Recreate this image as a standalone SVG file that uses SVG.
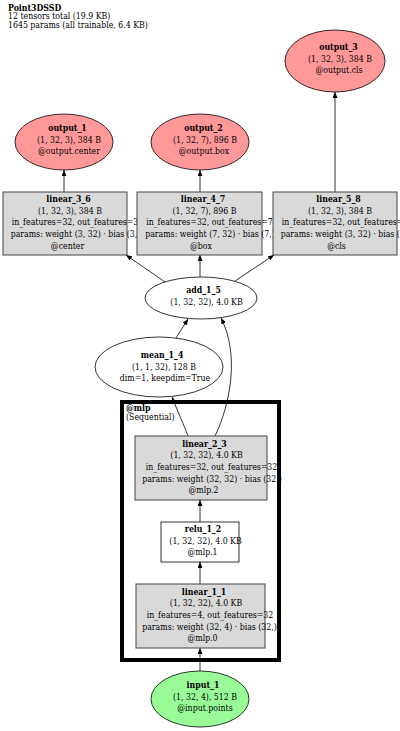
<svg xmlns="http://www.w3.org/2000/svg" width="400" height="731" viewBox="0 0 400 731">
<defs>
<marker id="ah" markerUnits="userSpaceOnUse" markerWidth="6" markerHeight="5" refX="6" refY="2.5" orient="auto">
<path d="M0,0 L6,2.5 L0,5 z" fill="#000"/>
</marker>
<style>
text{font-family:"DejaVu Serif","Liberation Serif",serif;font-stretch:condensed;font-size:8.7px;fill:#000;text-anchor:middle}
.t{text-anchor:start}
.b{font-weight:bold}
.out{fill:#ff9999;stroke:#000;stroke-width:0.8}
.inp{fill:#98fb98;stroke:#000;stroke-width:0.8}
.op{fill:#fff;stroke:#000;stroke-width:0.8}
.lin{fill:#d9d9d9;stroke:#444;stroke-width:1}
.box{fill:#fff;stroke:#000;stroke-width:0.8}
.e{fill:none;stroke:#000;stroke-width:0.8;marker-end:url(#ah)}
.cl{fill:none;stroke:#000;stroke-width:4}
</style>
</defs>
<g id="title">
<text class="t b" x="8" y="10.5">Point3DSSD</text>
<text class="t" x="8" y="19">12 tensors total (19.9 KB)</text>
<text class="t" x="8" y="27.5">1645 params (all trainable, 6.4 KB)</text>
</g>
<g id="edges">
<path class="e" d="M200,671 L200,648"/>
<path class="e" d="M200,584 L200,562"/>
<path class="e" d="M200,522 L200,500"/>
<path class="e" d="M188,436 C184,425 177,410 172,397"/>
<path class="e" d="M215,436 C230,405 240,355 221,318"/>
<path class="e" d="M176,338 L188,319"/>
<path class="e" d="M165,282 L126,255"/>
<path class="e" d="M200,277 L200,255"/>
<path class="e" d="M235,281 L274,255"/>
<path class="e" d="M64,192 L64,170"/>
<path class="e" d="M200,192 L200,170"/>
<path class="e" d="M335,192 L335,92"/>
</g>
<g id="output_3">
<ellipse class="out" cx="335" cy="61" rx="50" ry="31"/>
<text class="b" x="338.5" y="50">output_3</text>
<text x="340" y="61.5">(1, 32, 3), 384 B</text>
<text x="339" y="73">@output.cls</text>
</g>
<g id="output_1">
<ellipse class="out" cx="64" cy="142" rx="49" ry="28"/>
<text class="b" x="67.5" y="131">output_1</text>
<text x="69" y="142.5">(1, 32, 3), 384 B</text>
<text x="69" y="154">@output.center</text>
</g>
<g id="output_2">
<ellipse class="out" cx="200" cy="142" rx="49" ry="28"/>
<text class="b" x="203.5" y="131">output_2</text>
<text x="205" y="142.5">(1, 32, 7), 896 B</text>
<text x="204" y="154">@output.box</text>
</g>
<g id="linear_3_6">
<rect class="lin" x="3" y="192" width="124" height="63"/>
<text class="b" x="68.5" y="202">linear_3_6</text>
<text x="70" y="213.7">(1, 32, 3), 384 B</text>
<text x="75" y="225.4">in_features=32, out_features=3</text>
<text x="75.5" y="237.1">params: weight (3, 32) · bias (3,)</text>
<text x="67.5" y="248.8">@center</text>
</g>
<g id="linear_4_7">
<rect class="lin" x="137" y="192" width="125" height="63"/>
<text class="b" x="203" y="202">linear_4_7</text>
<text x="204.5" y="213.7">(1, 32, 7), 896 B</text>
<text x="209.5" y="225.4">in_features=32, out_features=7</text>
<text x="210" y="237.1">params: weight (7, 32) · bias (7,)</text>
<text x="201" y="248.8">@box</text>
</g>
<g id="linear_5_8">
<rect class="lin" x="273" y="192" width="124" height="63"/>
<text class="b" x="338.5" y="202">linear_5_8</text>
<text x="340" y="213.7">(1, 32, 3), 384 B</text>
<text x="345" y="225.4">in_features=32, out_features=3</text>
<text x="345.5" y="237.1">params: weight (3, 32) · bias (3,)</text>
<text x="336.5" y="248.8">@cls</text>
</g>
<g id="add_1_5">
<ellipse class="op" cx="201" cy="298" rx="56" ry="21"/>
<text class="b" x="203.5" y="293">add_1_5</text>
<text x="206.5" y="304.5">(1, 32, 32), 4.0 KB</text>
</g>
<g id="mean_1_4">
<ellipse class="op" cx="159" cy="367" rx="64" ry="30"/>
<text class="b" x="162" y="358">mean_1_4</text>
<text x="164" y="369.5">(1, 1, 32), 128 B</text>
<text x="165" y="381">dim=1, keepdim=True</text>
</g>
<g id="linear_2_3">
<rect class="lin" x="135" y="436" width="132" height="64"/>
<text class="b" x="204.5" y="446.5">linear_2_3</text>
<text x="206.5" y="458.2">(1, 32, 32), 4.0 KB</text>
<text x="211.5" y="469.9">in_features=32, out_features=32</text>
<text x="212" y="481.6">params: weight (32, 32) · bias (32,)</text>
<text x="203.5" y="493.3">@mlp.2</text>
</g>
<g id="relu_1_2">
<rect class="box" x="161" y="522" width="78" height="40"/>
<text class="b" x="203" y="532">relu_1_2</text>
<text x="205.5" y="543.7">(1, 32, 32), 4.0 KB</text>
<text x="202.5" y="555.4">@mlp.1</text>
</g>
<g id="linear_1_1">
<rect class="lin" x="136" y="584" width="129" height="64"/>
<text class="b" x="204" y="594.5">linear_1_1</text>
<text x="206" y="606.2">(1, 32, 32), 4.0 KB</text>
<text x="210" y="617.9">in_features=4, out_features=32</text>
<text x="209.5" y="629.6">params: weight (32, 4) · bias (32,)</text>
<text x="202.5" y="641.3">@mlp.0</text>
</g>
<g id="input_1">
<ellipse class="inp" cx="200" cy="699" rx="49" ry="28"/>
<text class="b" x="203" y="688">input_1</text>
<text x="205" y="699.5">(1, 32, 4), 512 B</text>
<text x="205" y="711">@input.points</text>
</g>
<g id="cluster_mlp">
<rect class="cl" x="122" y="402" width="157" height="258"/>
<text class="t b" x="126" y="411">@mlp</text>
<text class="t" x="126" y="419.5">(Sequential)</text>
</g>
</svg>
